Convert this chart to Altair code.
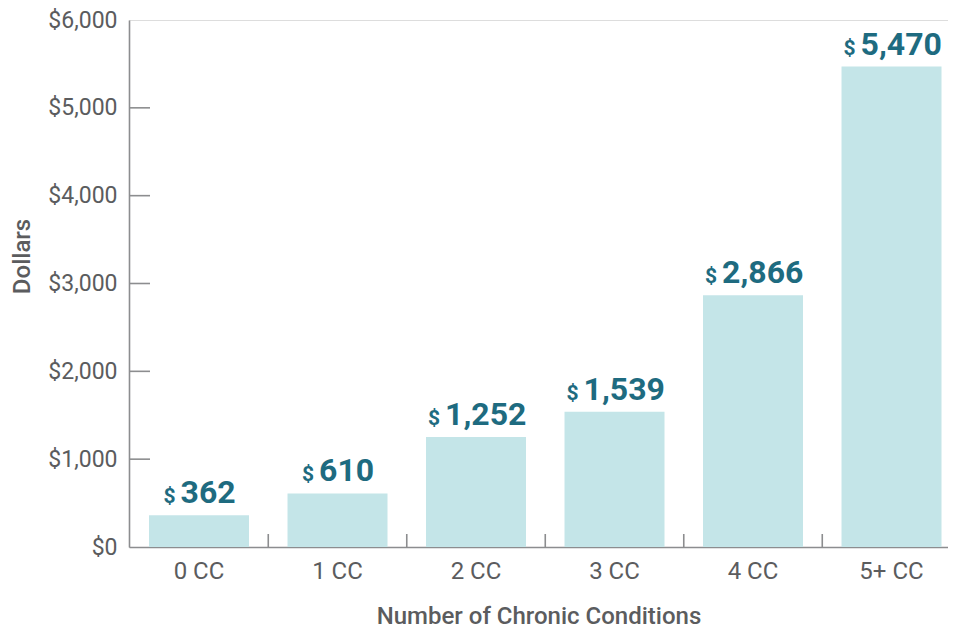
import altair as alt
import pandas as pd

categories = ["0 CC", "1 CC", "2 CC", "3 CC", "4 CC", "5+ CC"]
values = [362, 610, 1252, 1539, 2866, 5470]
y_ticks = [0, 1000, 2000, 3000, 4000, 5000, 6000]
inner_ticks = [1000, 2000, 3000, 4000, 5000]
x_title = "Number of Chronic Conditions"
y_title = "Dollars"

W, H = 819, 527
GRAY = "#5b5c5e"
AXIS = "#8c8d8f"
BAR = "#c4e5e8"
TEAL = "#1e6b80"
FONT = "Roboto"
BW = 100  # band width in px (step 138.5 * (1 - 0.278))

df = pd.DataFrame({"cat": categories, "v": values})
df_ticks = pd.DataFrame({"t": inner_ticks})
df_xt = pd.DataFrame({"cat": categories[1:]})

xscale = alt.Scale(domain=categories, paddingInner=0.278, paddingOuter=0.0957, align=0.755)
yscale = alt.Scale(domain=[0, 6000], nice=False)

x_enc = alt.X("cat:N", scale=xscale, sort=categories,
              axis=alt.Axis(title=x_title, labelAngle=0, tickSize=0, domainColor=AXIS, domainWidth=1.6,
                            labelFont=FONT, labelFontSize=24, labelColor=GRAY, labelPadding=12,
                            titleFont=FONT, titleFontSize=24, titleFontWeight=500, titleColor=GRAY,
                            titleY=76, titleBaseline="alphabetic"))
y_enc = alt.Y("v:Q", scale=yscale,
              axis=alt.Axis(title=y_title, values=y_ticks, format="$,d", tickSize=0, grid=False,
                            domainColor=AXIS, domainWidth=1.6,
                            labelFont=FONT, labelFontSize=23, labelColor=GRAY, labelPadding=12,
                            titleFont=FONT, titleFontSize=24, titleFontWeight=500, titleColor=GRAY,
                            titleX=-100, titleY=236, titleAngle=-90, titleBaseline="alphabetic",
                            titleAlign="center"))

bars = alt.Chart(df).mark_bar(color=BAR).encode(x=x_enc, y=y_enc)

base_txt = alt.Chart(df).transform_calculate(
    nw="17.97*length(toString(datum.v)) + (datum.v >= 1000 ? 7 : 0)"
).transform_calculate(
    numOff=f"{BW}/2 + (17 - datum.nw)/2",
    dolOff=f"{BW}/2 + (17 - datum.nw)/2 - 5",
    dol="'$'",
)

num_txt = base_txt.mark_text(font=FONT, fontSize=32, fontWeight="bold", color=TEAL,
                             align="left", baseline="alphabetic", dy=-12).encode(
    x=alt.X("cat:N", scale=xscale, sort=categories),
    y=alt.Y("v:Q", scale=yscale),
    xOffset=alt.XOffset("numOff:Q", scale=None),
    text=alt.Text("v:Q", format=","),
)

dol_txt = base_txt.mark_text(font=FONT, fontSize=21, fontWeight="bold", color=TEAL,
                             align="right", baseline="alphabetic", dy=-12).encode(
    x=alt.X("cat:N", scale=xscale, sort=categories),
    y=alt.Y("v:Q", scale=yscale),
    xOffset=alt.XOffset("dolOff:Q", scale=None),
    text="dol:N",
)

yticks = alt.Chart(df_ticks).mark_rule(color=AXIS, strokeWidth=1.6).encode(
    y=alt.Y("t:Q", scale=yscale),
    x=alt.value(0),
    x2=alt.value(21),
)

xticks = alt.Chart(df_xt).mark_rule(color=AXIS, strokeWidth=1.6, xOffset=-19.25).encode(
    x=alt.X("cat:N", scale=xscale, sort=categories, bandPosition=0),
    y=alt.value(H),
    y2=alt.value(H - 13),
)

chart = alt.layer(bars, yticks, xticks, num_txt, dol_txt).properties(
    width=W, height=H,
    padding={"left": 121, "top": 12, "right": 0, "bottom": 81},
    autosize=alt.AutoSizeParams(type="none"),
).configure_view(stroke=None).configure(background="white")

chart.save("out.html", embed_options={"renderer": "svg", "actions": False})
